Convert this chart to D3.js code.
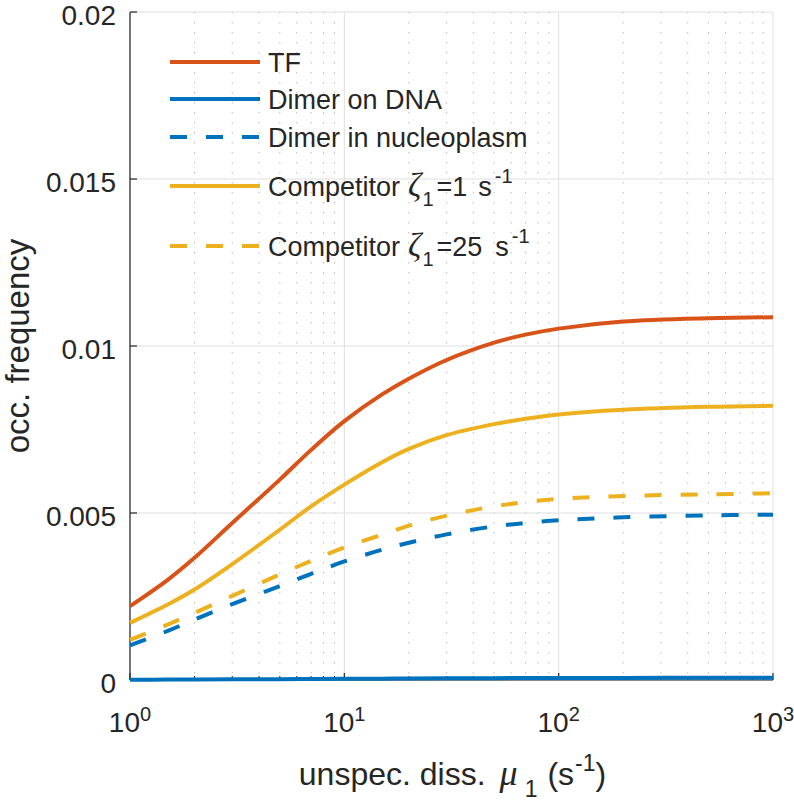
<!DOCTYPE html>
<html>
<head>
<meta charset="utf-8">
<script src="https://cdn.jsdelivr.net/npm/d3@7"></script>
<style>
  html, body { margin: 0; padding: 0; background: #fff; }
  svg { display: block; }
  text { font-family: "Liberation Sans", Arial, Helvetica, sans-serif; fill: #262626; }
</style>
</head>
<body>
<svg id="chart" width="794" height="804"></svg>
<script>
// ---- data ----
const mu = [1, 1.5, 2, 3, 5, 7, 10, 15, 20, 30, 50, 70, 100, 200, 500, 1000];
const tf = [0.00221, 0.003, 0.00366, 0.0047, 0.006, 0.00689, 0.00775, 0.00855, 0.00902, 0.00958, 0.0101, 0.01034, 0.01052, 0.01073, 0.01083, 0.01086];
const dimerDNA = [0.00001, 0.000012, 0.000015, 0.00002, 0.000025, 0.00003, 0.000035, 0.00004, 0.000045, 0.00005, 0.000055, 0.000058, 0.00006, 0.000063, 0.000065, 0.000066];
const dimerNucleo = [0.00104, 0.00147, 0.00181, 0.00227, 0.00281, 0.00318, 0.00355, 0.0039, 0.00411, 0.00436, 0.0046, 0.0047, 0.00478, 0.00487, 0.00493, 0.00495];
const comp1 = [0.00171, 0.00226, 0.00271, 0.00347, 0.0045, 0.0052, 0.00585, 0.00652, 0.00692, 0.00733, 0.00766, 0.00782, 0.00795, 0.00809, 0.00818, 0.00821];
const comp25 = [0.0012, 0.00166, 0.00201, 0.00252, 0.00316, 0.00357, 0.00397, 0.00435, 0.00462, 0.00492, 0.0052, 0.00533, 0.00542, 0.00551, 0.00556, 0.00559];

const yTicks = [0, 0.005, 0.01, 0.015, 0.02];
const yTickLabels = ["0", "0.005", "0.01", "0.015", "0.02"];
const xTicks = [1, 10, 100, 1000];
const xTickExponents = ["0", "1", "2", "3"];

const series = [
  { name: "TF", values: tf, color: "#D95319", dash: null },
  { name: "Dimer on DNA", values: dimerDNA, color: "#0072BD", dash: null },
  { name: "Dimer in nucleoplasm", values: dimerNucleo, color: "#0072BD", dash: "17,19" },
  { name: "Competitor1", values: comp1, color: "#EDB120", dash: null },
  { name: "Competitor25", values: comp25, color: "#EDB120", dash: "17,19" }
];

// ---- layout ----
const L = 130, R = 773, T = 12, B = 680;
const svg = d3.select("#chart");
const x = d3.scaleLog().domain([1, 1000]).range([L, R]);
const y = d3.scaleLinear().domain([0, 0.02]).range([B, T]);

// minor x gridlines (dotted)
const minor = [];
for (let d = 1; d < 1000; d *= 10) for (let k = 2; k <= 9; k++) minor.push(d * k);
svg.append("g").selectAll("line").data(minor).join("line")
  .attr("x1", d => x(d)).attr("x2", d => x(d))
  .attr("y1", T).attr("y2", B)
  .attr("stroke", "#bdbdbd").attr("stroke-width", 1)
  .attr("stroke-dasharray", "1.5,8.5");

// major gridlines
svg.append("g").selectAll("line").data(xTicks).join("line")
  .attr("x1", d => x(d)).attr("x2", d => x(d))
  .attr("y1", T).attr("y2", B)
  .attr("stroke", "#dfdfdf").attr("stroke-width", 1);
svg.append("g").selectAll("line").data(yTicks).join("line")
  .attr("x1", L).attr("x2", R)
  .attr("y1", d => y(d)).attr("y2", d => y(d))
  .attr("stroke", "#dfdfdf").attr("stroke-width", 1);

// axes lines
svg.append("line").attr("x1", L).attr("x2", L).attr("y1", T).attr("y2", B)
  .attr("stroke", "#262626").attr("stroke-width", 1.2);
svg.append("line").attr("x1", L).attr("x2", R).attr("y1", B).attr("y2", B)
  .attr("stroke", "#262626").attr("stroke-width", 1.2);

// y ticks (inward)
svg.append("g").selectAll("line").data(yTicks).join("line")
  .attr("x1", L).attr("x2", L + 7)
  .attr("y1", d => y(d)).attr("y2", d => y(d))
  .attr("stroke", "#262626").attr("stroke-width", 1.2);
// x ticks (inward), major and minor
svg.append("g").selectAll("line").data(xTicks).join("line")
  .attr("x1", d => x(d)).attr("x2", d => x(d))
  .attr("y1", B).attr("y2", B - 7)
  .attr("stroke", "#262626").attr("stroke-width", 1.2);
svg.append("g").selectAll("line").data(minor).join("line")
  .attr("x1", d => x(d)).attr("x2", d => x(d))
  .attr("y1", B).attr("y2", B - 4)
  .attr("stroke", "#262626").attr("stroke-width", 1);

// y tick labels
svg.append("g").selectAll("text").data(yTicks).join("text")
  .attr("x", L - 14).attr("y", d => y(d))
  .attr("dy", "0.45em")
  .attr("text-anchor", "end")
  .style("font-size", "28px")
  .text((d, i) => yTickLabels[i]);

// x tick labels 10^n
const xl = svg.append("g").selectAll("text").data(xTicks).join("text")
  .attr("x", d => x(d)).attr("y", 732)
  .attr("text-anchor", "middle")
  .style("font-size", "28px");
xl.append("tspan").text("10");
xl.append("tspan").attr("dy", -11).style("font-size", "20px").text((d, i) => xTickExponents[i]);

// curves
const line = d3.line()
  .x((d, i) => x(mu[i]))
  .y(d => y(d))
  .curve(d3.curveCatmullRom.alpha(0.5));

const order = [1, 2, 4, 3, 0];
svg.append("g").selectAll("path").data(order.map(i => series[i])).join("path")
  .attr("d", s => line(s.values))
  .attr("fill", "none")
  .attr("stroke", s => s.color)
  .attr("stroke-width", 4)
  .attr("stroke-dasharray", s => s.dash);

// legend
const legY = [62, 99, 137, 186, 246];
const leg = svg.append("g");
series.forEach((s, i) => {
  leg.append("line")
    .attr("x1", 170).attr("x2", 260)
    .attr("y1", legY[i]).attr("y2", legY[i])
    .attr("stroke", s.color).attr("stroke-width", 4)
    .attr("stroke-dasharray", s.dash);
});
const legText = (i) => leg.append("text").attr("x", 268).attr("y", legY[i] + 10).style("font-size", "27px");
legText(0).text("TF");
legText(1).text("Dimer on DNA");
legText(2).text("Dimer in nucleoplasm");
function competitor(i, val, gap) {
  const t = legText(i);
  t.append("tspan").text("Competitor");
  t.append("tspan").attr("dx", 8).style("font-family", "'Liberation Serif', serif").style("font-style", "italic").style("font-size", "33px").text("ζ");
  t.append("tspan").attr("dx", 1).attr("dy", 10).style("font-size", "20px").text("1");
  t.append("tspan").attr("dx", 3).attr("dy", -10).text("=" + val);
  t.append("tspan").attr("dx", gap).text("s");
  t.append("tspan").attr("dx", 3).attr("dy", -13).style("font-size", "20px").text("-1");
}
competitor(3, "1", 11);
competitor(4, "25", 13);

// axis labels
const xlab = svg.append("text").attr("x", (L + R) / 2 + 1).attr("y", 785)
  .attr("text-anchor", "middle").style("font-size", "32px");
xlab.append("tspan").text("unspec. diss.");
xlab.append("tspan").attr("dx", 14).style("font-family", "'Liberation Serif', serif").style("font-style", "italic").style("font-size", "36px").text("μ");
xlab.append("tspan").attr("dy", 12).attr("dx", 7).style("font-size", "23px").text("1");
xlab.append("tspan").attr("dx", 10).attr("dy", -12).text("(s");
xlab.append("tspan").attr("dx", 1).attr("dy", -14).style("font-size", "23px").text("-1");
xlab.append("tspan").attr("dy", 14).text(")");

svg.append("text")
  .attr("transform", `translate(29, ${(T + B) / 2}) rotate(-90)`)
  .attr("text-anchor", "middle")
  .style("font-size", "33px")
  .text("occ. frequency");
</script>
</body>
</html>
